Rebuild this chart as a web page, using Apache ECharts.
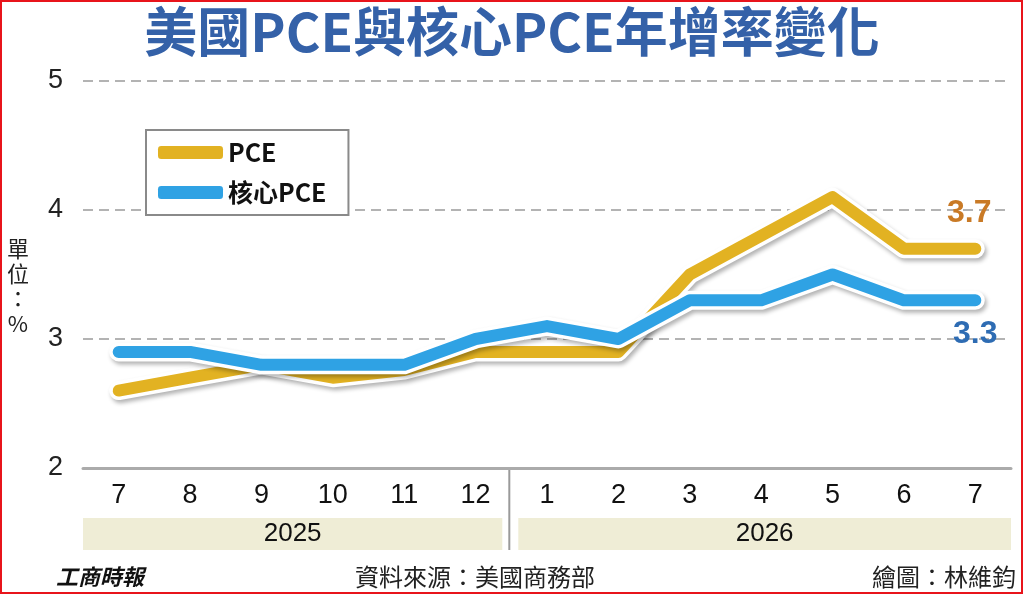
<!DOCTYPE html>
<html>
<head>
<meta charset="utf-8">
<title>美國PCE與核心PCE年增率變化</title>
<script src="https://cdn.jsdelivr.net/npm/echarts@6/dist/echarts.min.js"></script>
<style>
  html, body { margin: 0; padding: 0; background: #fff; }
  #chart { width: 1024px; height: 595px; }
</style>
</head>
<body>
<div id="chart"></div>
<script>
  // 月份（2025/7 ~ 2026/7）
  var months = ['7', '8', '9', '10', '11', '12', '1', '2', '3', '4', '5', '6', '7'];
  var years = ['2025', '2026'];
  var yearCounts = [6, 7];
  // 年增率（%）
  var pce = [2.6, 2.7, 2.8, 2.7, 2.76, 2.9, 2.9, 2.9, 3.5, 3.8, 4.1, 3.7, 3.7];
  var corePce = [2.9, 2.9, 2.8, 2.8, 2.8, 3.0, 3.1, 3.0, 3.3, 3.3, 3.5, 3.3, 3.3];

  var CJK = "'Noto Sans CJK TC', 'Noto Sans CJK SC', sans-serif";
  var NUM = "'Liberation Sans', Arial, sans-serif";
  var yellow = '#e2b222';
  var blue = '#2fa2e4';

  var chart = echarts.init(document.getElementById('chart'));

  // 線尾數字
  function endLabel(color, offset) {
    return {
      show: true, formatter: '{c}', distance: 0, offset: offset,
      align: 'center', verticalAlign: 'middle',
      color: color, fontSize: 32, fontWeight: 'bold', fontFamily: NUM
    };
  }

  var halo = {
    color: '#fff', width: 19, cap: 'round', join: 'round',
    shadowColor: 'rgba(0,0,0,0.3)', shadowBlur: 4, shadowOffsetX: 2, shadowOffsetY: 3
  };

  chart.setOption({
    animation: false,
    title: {
      text: '美國PCE與核心PCE年增率變化',
      left: 'center', top: 0,
      textStyle: { fontFamily: CJK, fontSize: 53, fontWeight: 'bold', color: '#3461a8' }
    },
    legend: {
      data: ['PCE', '核心PCE'],
      orient: 'vertical',
      left: 146, top: 130,
      icon: 'roundRect',
      itemWidth: 65, itemHeight: 13, itemGap: 15, itemTextGap: 18,
      padding: [10, 22, 10, 12],
      borderColor: '#8a8a8a', borderWidth: 2,
      backgroundColor: '#fff',
      textStyle: { fontFamily: CJK, fontSize: 25, fontWeight: 'bold', color: '#111' }
    },
    grid: { left: 83, right: 13, top: 81, bottom: 127 },
    xAxis: {
      type: 'category',
      data: months,
      boundaryGap: true,
      axisLine: { lineStyle: { color: '#ababab', width: 3 } },
      axisTick: { alignWithLabel: true, length: 10, lineStyle: { color: '#ababab', width: 2 } },
      axisLabel: { color: '#111', fontSize: 27, fontFamily: NUM, margin: 14 }
    },
    yAxis: {
      type: 'value',
      min: 2, max: 5, interval: 1,
      axisLine: { show: false },
      axisTick: { show: false },
      axisLabel: { color: '#222', fontSize: 27, fontFamily: NUM, margin: 20 },
      splitLine: { lineStyle: { color: '#b3b3b3', width: 2, type: [10, 6] } }
    },
    series: [
      { name: 'PCE-halo', type: 'line', data: pce, symbol: 'none', silent: true, lineStyle: halo, z: 2 },
      {
        name: 'PCE', type: 'line', symbol: 'none', z: 3,
        data: pce,
        endLabel: endLabel('#c97a26', [-6, -36]),
        itemStyle: { color: yellow },
        lineStyle: { color: yellow, width: 12, cap: 'round', join: 'round' }
      },
      { name: 'core-halo', type: 'line', data: corePce, symbol: 'none', silent: true, lineStyle: halo, z: 4 },
      {
        name: '核心PCE', type: 'line', symbol: 'none', z: 5,
        data: corePce,
        endLabel: endLabel('#2e6cb3', [0, 34]),
        itemStyle: { color: blue },
        lineStyle: { color: blue, width: 12, cap: 'round', join: 'round' }
      }
    ]
  });

  // 年份色帶、分隔線等以軸座標換算位置
  var yBase = chart.convertToPixel({ yAxisIndex: 0 }, 2);
  var step = chart.convertToPixel({ xAxisIndex: 0 }, 1) - chart.convertToPixel({ xAxisIndex: 0 }, 0);
  var graphics = [];
  var start = 0;
  years.forEach(function (yr, k) {
    var x0 = chart.convertToPixel({ xAxisIndex: 0 }, start) - step / 2;
    var x1 = chart.convertToPixel({ xAxisIndex: 0 }, start + yearCounts[k] - 1) + step / 2;
    var l = x0 + (k === 0 ? 0 : 7);
    var r = x1 - (k === 0 ? 9 : 0);
    graphics.push({
      type: 'rect', z: 1,
      shape: { x: l, y: yBase + 50, width: r - l, height: 32 },
      style: { fill: '#efedd6' }
    });
    graphics.push({
      type: 'text', z: 2,
      x: (l + r) / 2, y: yBase + 66,
      style: { text: yr, fill: '#111', font: '26px ' + NUM, align: 'center', verticalAlign: 'middle' }
    });
    start += yearCounts[k];
  });
  var sepX = chart.convertToPixel({ xAxisIndex: 0 }, yearCounts[0]) - step / 2 - 2;
  graphics.push({
    type: 'line', z: 3,
    shape: { x1: sepX, y1: yBase + 2, x2: sepX, y2: yBase + 82 },
    style: { stroke: '#9a9a9a', lineWidth: 2 }
  });
  // 單位
  graphics.push({
    type: 'text', x: 18, y: 286,
    style: { text: '單\n位\n：\n%', fill: '#222', font: '22px ' + CJK, align: 'center', verticalAlign: 'middle', lineHeight: 25 }
  });
  // 頁尾
  graphics.push({
    type: 'text', x: 56, y: 577,
    style: { text: '工商時報', fill: '#111', font: 'italic bold 22px ' + CJK, verticalAlign: 'middle' }
  });
  graphics.push({
    type: 'text', x: 475, y: 577,
    style: { text: '資料來源：美國商務部', fill: '#222', font: '24px ' + CJK, align: 'center', verticalAlign: 'middle' }
  });
  graphics.push({
    type: 'text', x: 1016, y: 577,
    style: { text: '繪圖：林維鈞', fill: '#222', font: '24px ' + CJK, align: 'right', verticalAlign: 'middle' }
  });
  // 外框
  graphics.push({
    type: 'rect', z: 10,
    shape: { x: 1, y: 1, width: 1021, height: 592 },
    style: { fill: 'none', stroke: '#e8141b', lineWidth: 2 }
  });

  chart.setOption({ graphic: graphics });
</script>
</body>
</html>
